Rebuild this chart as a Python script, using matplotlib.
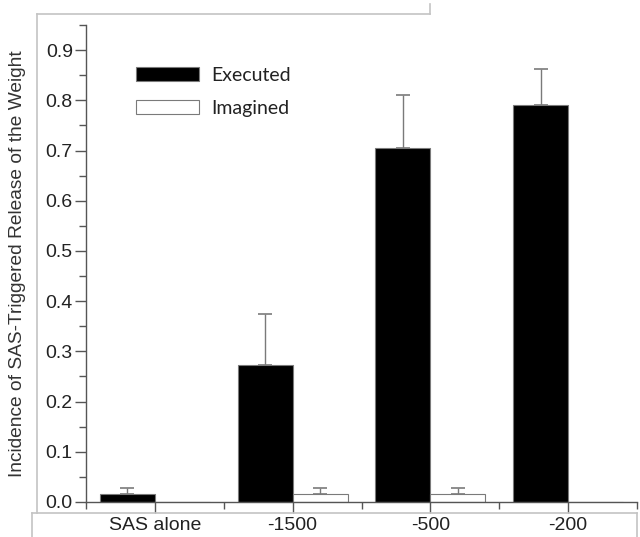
import numpy as np
import matplotlib
matplotlib.use("Agg")
import matplotlib.pyplot as plt
from matplotlib.lines import Line2D

# data
categories = ["SAS alone", "-1500", "-500", "-200"]
executed = [0.015, 0.272, 0.706, 0.791]
executed_err = [0.013, 0.103, 0.104, 0.071]
imagined = [0.0, 0.015, 0.015, 0.0]
imagined_err = [0.0, 0.013, 0.013, 0.0]

plt.rcParams['font.family'] = ['Liberation Sans', 'DejaVu Sans']

fig = plt.figure(figsize=(6.4, 5.37), dpi=100)
ax = fig.add_axes([86/640, 35/537, 551/640, 477/537])

x = np.arange(len(categories))
w = 0.4
edge = '#7a7a7a'

ax.bar(x - w/2, executed, w, color='black', edgecolor=edge, linewidth=0.8,
       label='Executed', zorder=2)
ax.bar(x + w/2, imagined, w, color='white', edgecolor=edge, linewidth=0.8,
       label='Imagined', zorder=2)

# upper-only error bars
ex_lo = np.zeros(len(executed))
im_lo = np.zeros(len(imagined))
ax.errorbar(x - w/2, executed, yerr=[ex_lo, executed_err], fmt='none',
            ecolor=edge, elinewidth=1, capsize=5, capthick=1.2, zorder=1)
has_err = np.array(imagined_err) > 0
ax.errorbar((x + w/2)[has_err], np.array(imagined)[has_err],
            yerr=[im_lo[has_err], np.array(imagined_err)[has_err]], fmt='none',
            ecolor=edge, elinewidth=1, capsize=5, capthick=1.2, zorder=1)

ax.set_xlim(-0.5, 3.5)
ax.set_ylim(0, 0.95)

ax.set_xticks(x)
ax.set_xticklabels(categories, fontsize=14, color='#222222')
ax.set_xticks(np.arange(-0.5, 4, 1.0), minor=True)
ax.set_yticks(np.arange(0, 0.91, 0.1))
ax.set_yticklabels(['%.1f' % v for v in np.arange(0, 0.91, 0.1)],
                   fontsize=14, color='#222222')
ax.set_yticks(np.arange(0.05, 0.96, 0.1), minor=True)

ax.tick_params(axis='x', which='major', direction='out', length=8,
               width=1, color='#555555', pad=3)
ax.tick_params(axis='x', which='minor', direction='out', length=5,
               width=1, color='#555555')
ax.tick_params(axis='y', which='major', direction='out', length=8,
               width=1, color='#555555', pad=1.5)
ax.tick_params(axis='y', which='minor', direction='out', length=5,
               width=1, color='#555555')

for s in ['top', 'right']:
    ax.spines[s].set_visible(False)
for s in ['left', 'bottom']:
    ax.spines[s].set_color('#555555')
    ax.spines[s].set_linewidth(1)

ax.set_ylabel('Incidence of SAS-Triggered Release of the Weight',
              fontsize=13.8, color='#333333')
ax.yaxis.set_label_coords(-0.109, 0.5)

leg = ax.legend(loc='upper left', bbox_to_anchor=(0.0907, 0.912), frameon=False,
                prop={'family': 'Lato', 'size': 14}, handlelength=3.25,
                handleheight=0.75, handletextpad=0.6, labelspacing=0.82,
                borderpad=0, borderaxespad=0)
for t in leg.get_texts():
    t.set_color('#222222')

# light gray frame pieces around the chart
gray = '#c4c4c4'
def fline(xs, ys):
    fig.add_artist(Line2D([v/640 for v in xs], [1 - v/537 for v in ys],
                          color=gray, linewidth=1.2))

fline([37, 430], [14, 14])
fline([430, 430], [4, 14])
fline([37, 37], [14, 513])
fline([32, 637], [513, 513])
fline([32, 32], [513, 537])
fline([637, 637], [513, 537])

fig.savefig('out.png', dpi=100)
